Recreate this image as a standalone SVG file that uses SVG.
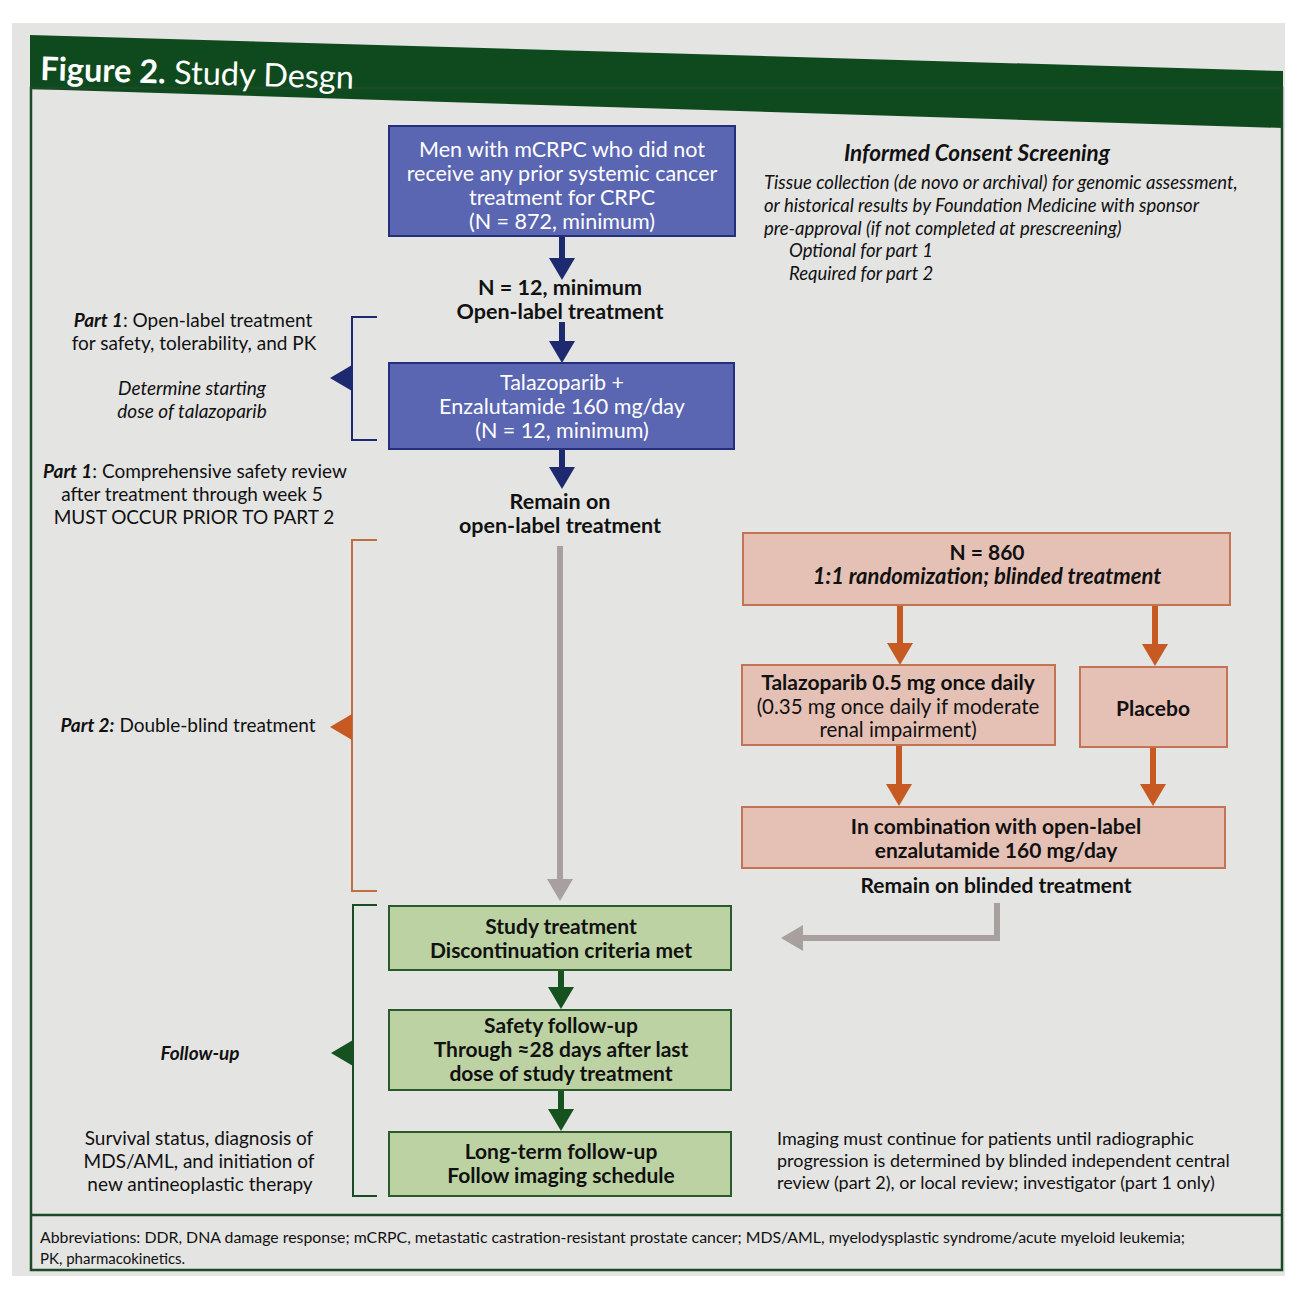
<svg xmlns="http://www.w3.org/2000/svg" width="1301" height="1293" viewBox="0 0 1301 1293">
<style>
text{font-family:Lato,"Open Sans","Liberation Sans",sans-serif;fill:#111;}
.t{font-size:19px;}
.c{text-anchor:middle;}
.b{font-weight:bold;}
.i{font-style:italic;}
.wt{fill:#fff;font-size:21.5px;text-anchor:middle;}
.nb{font-size:21.5px;font-weight:bold;text-anchor:middle;}
.bx{font-size:21px;font-weight:bold;text-anchor:middle;}
.rg{font-size:20.5px;text-anchor:middle;}
.blue{fill:#5b66b2;stroke:#25307c;stroke-width:2;}
.pink{fill:#e5c0b5;stroke:#c27455;stroke-width:2;}
.green{fill:#bcd2a2;stroke:#2c5a2f;stroke-width:2;}
.navyL{stroke:#1e2a70;stroke-width:6;fill:none;}
.orgL{stroke:#c65a22;stroke-width:6;fill:none;}
.grnL{stroke:#15521f;stroke-width:6;fill:none;}
.gryL{stroke:#a89f9f;stroke-width:6;fill:none;}
.brk{fill:none;stroke-width:2;}
.note{font-size:18.5px;}
.img{font-size:18px;}
</style>
<defs>
<marker id="hNavy" viewBox="0 0 22 26" markerWidth="22" markerHeight="26" refX="2" refY="13" orient="auto" markerUnits="userSpaceOnUse"><path d="M0,0 L22,13 L0,26 z" fill="#1e2a70"/></marker>
<marker id="hOrg" viewBox="0 0 22 26" markerWidth="22" markerHeight="26" refX="2" refY="13" orient="auto" markerUnits="userSpaceOnUse"><path d="M0,0 L22,13 L0,26 z" fill="#c65a22"/></marker>
<marker id="hGrn" viewBox="0 0 22 26" markerWidth="22" markerHeight="26" refX="2" refY="13" orient="auto" markerUnits="userSpaceOnUse"><path d="M0,0 L22,13 L0,26 z" fill="#15521f"/></marker>
<marker id="hGry" viewBox="0 0 22 26" markerWidth="22" markerHeight="26" refX="2" refY="13" orient="auto" markerUnits="userSpaceOnUse"><path d="M0,0 L22,13 L0,26 z" fill="#a89f9f"/></marker>
</defs>

<!-- background / poster -->
<rect x="0" y="0" width="1301" height="1293" fill="#ffffff"/>
<rect x="12" y="23" width="1273" height="1253" fill="#e4e4e3"/>
<g id="frame">
<polygon points="30,35 1283,71 1283,128 30,89" fill="#0f4a1f"/>
<rect x="31" y="88" width="1251" height="1182" fill="none" stroke="#1b4a26" stroke-width="2.5"/>
<line x1="31" y1="1215" x2="1282" y2="1215" stroke="#1b4a26" stroke-width="2.5"/>
<text x="40" y="80" transform="rotate(1.6 40 80)" style="fill:#fff;font-size:32.5px;"><tspan font-weight="bold">Figure 2.</tspan> Study Desgn</text>
</g>

<!-- connectors -->
<g id="connectors">
<line class="navyL" x1="562" y1="236" x2="562" y2="260" marker-end="url(#hNavy)"/>
<line class="navyL" x1="562" y1="322" x2="562" y2="343" marker-end="url(#hNavy)"/>
<line class="navyL" x1="562" y1="449" x2="562" y2="469" marker-end="url(#hNavy)"/>
<line class="gryL" x1="560" y1="546" x2="560" y2="881" marker-end="url(#hGry)"/>
<line class="grnL" x1="561" y1="971" x2="561" y2="989" marker-end="url(#hGrn)"/>
<line class="grnL" x1="561" y1="1091" x2="561" y2="1111" marker-end="url(#hGrn)"/>
<line class="orgL" x1="900" y1="606" x2="900" y2="645" marker-end="url(#hOrg)"/>
<line class="orgL" x1="1155" y1="606" x2="1155" y2="646" marker-end="url(#hOrg)"/>
<line class="orgL" x1="899" y1="746" x2="899" y2="786" marker-end="url(#hOrg)"/>
<line class="orgL" x1="1153" y1="748" x2="1153" y2="786" marker-end="url(#hOrg)"/>
<path class="gryL" d="M997,903 V938 H801" marker-end="url(#hGry)"/>
</g>

<!-- brackets -->
<g id="bracket-part1">
<path class="brk" d="M377,317 H352 V440 H377" stroke="#1e2a70"/>
<polygon points="352,365 330,378 352,391" fill="#1e2a70"/>
</g>
<g id="bracket-part2">
<path class="brk" d="M377,540 H352 V891 H377" stroke="#c0703f"/>
<polygon points="352,714 330,727 352,740" fill="#c65a22"/>
</g>
<g id="bracket-followup">
<path class="brk" d="M377,905 H353 V1196 H377" stroke="#1b4a26"/>
<polygon points="353,1040 331,1053 353,1066" fill="#15521f"/>
</g>

<!-- blue nodes -->
<g id="node-population">
<rect class="blue" x="389" y="126" width="346" height="110"/>
<text class="wt" x="562" y="157">Men with mCRPC who did not</text>
<text class="wt" x="562" y="181">receive any prior systemic cancer</text>
<text class="wt" x="562" y="205">treatment for CRPC</text>
<text class="wt" x="562" y="229">(N = 872, minimum)</text>
</g>
<g id="label-n12">
<text class="nb" x="560" y="295">N = 12, minimum</text>
<text class="nb" x="560" y="319">Open-label treatment</text>
</g>
<g id="node-part1-treatment">
<rect class="blue" x="389" y="363" width="345" height="86"/>
<text class="wt" x="562" y="390">Talazoparib +</text>
<text class="wt" x="562" y="414">Enzalutamide 160 mg/day</text>
<text class="wt" x="562" y="438">(N = 12, minimum)</text>
</g>
<g id="label-remain-open">
<text class="nb" x="560" y="509">Remain on</text>
<text class="nb" x="560" y="533">open-label treatment</text>
</g>

<!-- pink nodes -->
<g id="node-randomization">
<rect class="pink" x="743" y="533" width="487" height="72"/>
<text class="bx" x="987" y="560">N = 860</text>
<text class="bx i" x="987" y="584" style="font-size:22px;">1:1 randomization; blinded treatment</text>
</g>
<g id="node-talazoparib">
<rect class="pink" x="742" y="665" width="313" height="80"/>
<text class="bx" x="898" y="690">Talazoparib 0.5 mg once daily</text>
<text class="rg" x="898" y="713.5">(0.35 mg once daily if moderate</text>
<text class="rg" x="898" y="737">renal impairment)</text>
</g>
<g id="node-placebo">
<rect class="pink" x="1080" y="667" width="147" height="80"/>
<text class="bx" x="1153" y="716">Placebo</text>
</g>
<g id="node-combination">
<rect class="pink" x="742" y="807" width="483" height="61"/>
<text class="bx" x="996" y="834">In combination with open-label</text>
<text class="bx" x="996" y="858">enzalutamide 160 mg/day</text>
</g>
<g id="label-remain-blinded">
<text class="bx" x="996" y="893">Remain on blinded treatment</text>
</g>

<!-- green nodes -->
<g id="node-discontinuation">
<rect class="green" x="389" y="906" width="342" height="64"/>
<text class="bx" x="561" y="934">Study treatment</text>
<text class="bx" x="561" y="958">Discontinuation criteria met</text>
</g>
<g id="node-safety-followup">
<rect class="green" x="389" y="1010" width="342" height="80"/>
<text class="bx" x="561" y="1033">Safety follow-up</text>
<text class="bx" x="561" y="1057">Through ≈28 days after last</text>
<text class="bx" x="561" y="1081">dose of study treatment</text>
</g>
<g id="node-longterm">
<rect class="green" x="389" y="1132" width="342" height="64"/>
<text class="bx" x="561" y="1159">Long-term follow-up</text>
<text class="bx" x="561" y="1183">Follow imaging schedule</text>
</g>

<!-- left annotations -->
<g id="notes-left">
<text class="t c" x="193" y="327"><tspan class="b i">Part 1</tspan>: Open-label treatment</text>
<text class="t c" x="194" y="350">for safety, tolerability, and PK</text>
<text class="t c i" x="192" y="395">Determine starting</text>
<text class="t c i" x="192" y="418">dose of talazoparib</text>
<text class="t c" x="195" y="478"><tspan class="b i">Part 1</tspan>: Comprehensive safety review</text>
<text class="t c" x="192" y="501">after treatment through week 5</text>
<text class="t c" x="194" y="524">MUST OCCUR PRIOR TO PART 2</text>
<text class="t c" x="188" y="732"><tspan class="b i">Part 2:</tspan> Double-blind treatment</text>
<text class="t c b i" x="200" y="1060">Follow-up</text>
<text class="t c" x="199" y="1145">Survival status, diagnosis of</text>
<text class="t c" x="199" y="1168">MDS/AML, and initiation of</text>
<text class="t c" x="200" y="1191">new antineoplastic therapy</text>
</g>

<!-- right annotations -->
<g id="notes-consent">
<text x="977" y="161" style="font-size:22.5px;font-weight:bold;font-style:italic;text-anchor:middle;">Informed Consent Screening</text>
<text class="note i" x="764" y="189">Tissue collection (de novo or archival) for genomic assessment,</text>
<text class="note i" x="764" y="212">or historical results by Foundation Medicine with sponsor</text>
<text class="note i" x="764" y="235">pre-approval (if not completed at prescreening)</text>
<text class="note i" x="789" y="257">Optional for part 1</text>
<text class="note i" x="789" y="280">Required for part 2</text>
</g>
<g id="notes-imaging">
<text class="img" x="777" y="1145">Imaging must continue for patients until radiographic</text>
<text class="img" x="777" y="1167">progression is determined by blinded independent central</text>
<text class="img" x="777" y="1189">review (part 2), or local review; investigator (part 1 only)</text>
</g>

<g id="abbreviations">
<text x="40" y="1243" style="font-size:15px;" textLength="1145" lengthAdjust="spacingAndGlyphs">Abbreviations: DDR, DNA damage response; mCRPC, metastatic castration-resistant prostate cancer; MDS/AML, myelodysplastic syndrome/acute myeloid leukemia;</text>
<text x="40" y="1264" style="font-size:15px;">PK, pharmacokinetics.</text>
</g>
</svg>
